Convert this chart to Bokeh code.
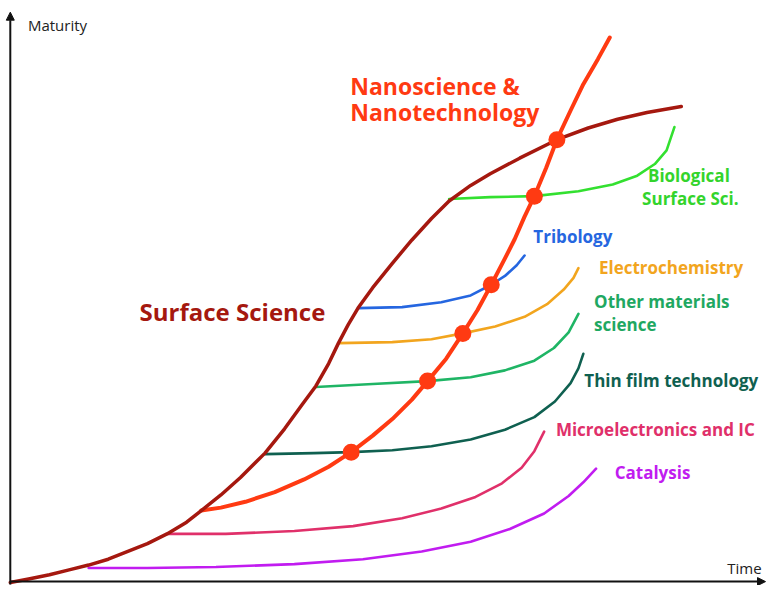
from bokeh.plotting import figure
from bokeh.models import Range1d, Arrow, NormalHead
from bokeh.core.properties import value
from bokeh.embed import file_html
from bokeh.resources import INLINE

# coordinates in "time" (x) and "maturity" (y, measured downward as on picture)
surface_x = [10, 30, 50, 70, 90, 110, 130, 150, 170, 190, 205, 225, 245, 270, 290, 308, 322, 335, 345, 355, 365,
             380, 400, 420, 440, 458, 480, 500, 530, 568, 600, 630, 660, 695]
surface_y = [598, 594, 590, 585, 580, 574, 566, 558, 548, 536, 524, 508, 490, 465, 440, 415, 396, 373, 352, 333, 316,
             295, 270, 246, 224, 206, 190, 178, 162, 143, 131, 122, 115, 109]

nano_x = [205, 225, 250, 280, 310, 335, 358, 380, 400, 420, 436, 455, 472, 487, 501, 515, 525, 535, 545, 557, 568,
          582, 595, 610, 622]
nano_y = [524, 521, 515, 505, 492, 479, 464, 447, 430, 410, 391, 368, 342, 318, 292, 265, 245, 222, 201, 172, 143,
          113, 86, 60, 38]

dots_x = [358, 436, 472, 501, 545, 568]
dots_y = [464, 391, 342, 292, 201, 143]

catalysis_x = [90, 150, 220, 300, 370, 430, 480, 520, 555, 580, 595, 608]
catalysis_y = [583, 583, 582, 579, 574, 566, 556, 543, 527, 509, 495, 481]
micro_x = [170, 230, 300, 360, 410, 450, 485, 512, 532, 545, 555]
micro_y = [548, 548, 545, 540, 532, 522, 510, 496, 480, 463, 443]
thin_x = [270, 320, 358, 400, 440, 480, 515, 545, 566, 582, 590, 595]
thin_y = [466, 465, 464, 462, 458, 451, 441, 428, 412, 393, 378, 363]
other_x = [322, 380, 436, 480, 515, 545, 565, 580, 590]
other_y = [397, 394, 391, 387, 380, 370, 357, 341, 322]
electro_x = [345, 400, 440, 472, 505, 535, 558, 575, 585, 590]
electro_y = [352, 351, 348, 342, 335, 325, 312, 297, 285, 275]
tribo_x = [365, 410, 450, 480, 501, 515, 527, 535]
tribo_y = [316, 315, 310, 303, 292, 283, 272, 262]
bio_x = [458, 500, 545, 590, 625, 650, 668, 680, 688]
bio_y = [204, 202, 201, 196, 189, 180, 168, 154, 130]

branches = [
    (catalysis_x, catalysis_y, "#c11cf0"),
    (micro_x, micro_y, "#e0306a"),
    (thin_x, thin_y, "#0f6050"),
    (other_x, other_y, "#1fb565"),
    (electro_x, electro_y, "#f2a51e"),
    (tribo_x, tribo_y, "#2566e0"),
    (bio_x, bio_y, "#33e030"),
]

labels = [
    ("Nanoscience &", 357, 88, "#ff3a12", 23, "bold"),
    ("Nanotechnology", 357, 115, "#ff3a12", 23, "bold"),
    ("Surface Science", 142, 320, "#a5180f", 24, "bold"),
    ("Biological", 661, 180, "#33d42c", 17, "bold"),
    ("Surface Sci.", 655, 203, "#33d42c", 17, "bold"),
    ("Tribology", 544, 242, "#2566e0", 17, "bold"),
    ("Electrochemistry", 611, 274, "#f2a51e", 17, "bold"),
    ("Other materials", 606, 309, "#1fa862", 17, "bold"),
    ("science", 606, 333, "#1fa862", 17, "bold"),
    ("Thin film technology", 596, 390, "#0f6050", 17, "bold"),
    ("Microelectronics and IC", 567, 441, "#e0306a", 17, "bold"),
    ("Catalysis", 627, 485, "#c11cf0", 17, "bold"),
    ("Maturity", 28, 25, "#222222", 15, "normal"),
    ("Time", 742, 583, "#222222", 15, "normal"),
]

p = figure(width=766, height=585, output_backend="svg", toolbar_location=None,
           x_range=Range1d(0, 782), y_range=Range1d(601, 0),
           min_border=0, outline_line_color=None)
p.axis.visible = False
p.grid.visible = False

for bx, by, col in branches:
    p.line(bx, by, line_color=col, line_width=2.6, line_join="round", line_cap="round")

p.line(nano_x, nano_y, line_color="#ff3a12", line_width=4, line_join="round", line_cap="round")
p.line(surface_x, surface_y, line_color="#a5180f", line_width=3.5, line_join="round", line_cap="round")
p.scatter(dots_x, dots_y, size=17, fill_color="#ff3a12", line_color=None)

for t, x, y, c, s, st in labels:
    p.text(x=[x], y=[y], text=[t], text_color=c, text_font=value("Open Sans"),
           text_font_size=f"{s}px", text_font_style=st,
           text_baseline="middle", text_align="left")

p.add_layout(Arrow(x_start=10, y_start=600, x_end=10, y_end=12, line_width=2, line_color="#111111",
                   end=NormalHead(size=8, fill_color="#111111", line_color="#111111")))
p.add_layout(Arrow(x_start=10, y_start=597, x_end=781, y_end=597, line_width=2, line_color="#111111",
                   end=NormalHead(size=8, fill_color="#111111", line_color="#111111")))

open("out.html", "w").write(file_html(p, INLINE))
